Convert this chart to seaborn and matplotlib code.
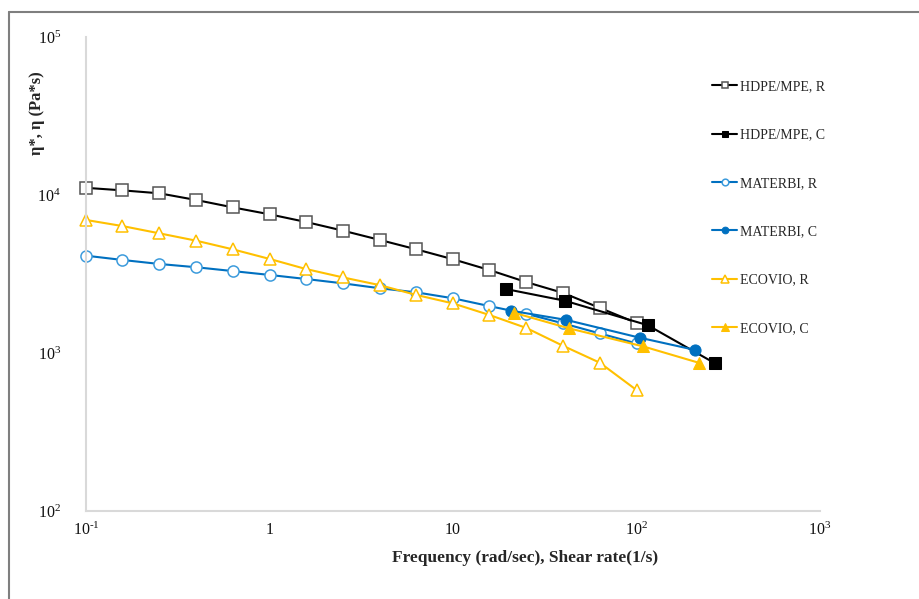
import numpy as np
import pandas as pd
import matplotlib
matplotlib.use("Agg")
import matplotlib.pyplot as plt
from matplotlib.lines import Line2D
import matplotlib.ticker as mticker
import seaborn as sns

# ---- data ----
freq_r = [0.1, 0.158, 0.251, 0.398, 0.631, 1.0, 1.58, 2.51, 3.98, 6.31,
          10.0, 15.8, 25.1, 39.8, 63.1, 100.0]
hdpe_r = [11100, 10700, 10250, 9300, 8350, 7550, 6750, 5950, 5200, 4530,
          3920, 3350, 2810, 2400, 1930, 1550]
materbi_r = [4130, 3880, 3660, 3490, 3300, 3120, 2940, 2760, 2570, 2420,
             2220, 1980, 1770, 1540, 1330, 1150]
ecovio_r = [6950, 6360, 5720, 5140, 4530, 3940, 3400, 3010, 2690, 2330,
            2060, 1740, 1440, 1110, 868, 583]

hdpe_c_x = [19.4, 40.8, 115, 268]
hdpe_c = [2540, 2140, 1500, 860]
materbi_c_x = [20.8, 41.4, 104, 209]
materbi_c = [1850, 1620, 1250, 1045]
ecovio_c_x = [21.4, 43.1, 109, 218]
ecovio_c = [1800, 1430, 1100, 868]

labels = ["HDPE/MPE, R", "HDPE/MPE, C", "MATERBI, R", "MATERBI, C",
          "ECOVIO, R", "ECOVIO, C"]
x_ticks = [0.1, 1, 10, 100, 1000]
x_ticklabels = [r"$10^{\text{-}1}$", "1", "10", r"$10^{2}$", r"$10^{3}$"]
y_ticks = [100, 1000, 10000, 100000]
y_ticklabels = [r"$10^{2}$", r"$10^{3}$", r"$10^{4}$", r"$10^{5}$"]

# ---- style ----
sns.set_theme(style="white")
plt.rcParams["font.family"] = ["Liberation Serif", "DejaVu Serif"]
plt.rcParams["mathtext.fontset"] = "custom"
plt.rcParams["mathtext.rm"] = "Liberation Serif"
plt.rcParams["mathtext.it"] = "Liberation Serif:italic"
plt.rcParams["mathtext.bf"] = "Liberation Serif:bold"

fig = plt.figure(figsize=(9.19, 5.99), dpi=100)
ax = fig.add_axes([86 / 919, 1 - 511 / 599, (820 - 86) / 919, (511 - 37) / 599])

BLACK = "#000000"
BLUE = "#0070C0"
LBLUE = "#3C9BDC"
GOLD = "#FFC000"

series = [
    (freq_r, hdpe_r, labels[0], dict(color=BLACK, marker="s", markersize=8,
                                      markerfacecolor="white", markeredgecolor="#555555",
                                      markeredgewidth=1.1)),
    (hdpe_c_x, hdpe_c, labels[1], dict(color=BLACK, marker="s", markersize=8,
                                        markerfacecolor=BLACK, markeredgecolor=BLACK)),
    (freq_r, materbi_r, labels[2], dict(color=BLUE, marker="o", markersize=8,
                                         markerfacecolor="white", markeredgecolor=LBLUE,
                                         markeredgewidth=1.1)),
    (materbi_c_x, materbi_c, labels[3], dict(color=BLUE, marker="o", markersize=8,
                                              markerfacecolor=BLUE, markeredgecolor=BLUE)),
    (freq_r, ecovio_r, labels[4], dict(color=GOLD, marker="^", markersize=9,
                                        markerfacecolor="white", markeredgecolor=GOLD,
                                        markeredgewidth=1.1)),
    (ecovio_c_x, ecovio_c, labels[5], dict(color=GOLD, marker="^", markersize=9,
                                            markerfacecolor=GOLD, markeredgecolor=GOLD)),
]

for xs, ys, lab, kw in series:
    sns.lineplot(x=xs, y=ys, ax=ax, label=lab, linewidth=1.5, legend=False,
                 clip_on=False, **kw)

ax.set_xscale("log")
ax.set_yscale("log")
ax.set_xlim(0.1, 1000)
ax.set_ylim(100, 100000)

ax.xaxis.set_major_locator(mticker.FixedLocator(x_ticks))
ax.xaxis.set_major_formatter(mticker.FixedFormatter(x_ticklabels))
ax.xaxis.set_minor_locator(mticker.NullLocator())
ax.yaxis.set_major_locator(mticker.FixedLocator(y_ticks))
ax.yaxis.set_major_formatter(mticker.FixedFormatter(y_ticklabels))
ax.yaxis.set_minor_locator(mticker.NullLocator())
ax.tick_params(axis="x", length=0, pad=8, labelsize=11.5, colors="#111111")
ax.tick_params(axis="y", length=0, pad=18, labelsize=11.5, colors="#111111")

for s in ["top", "right"]:
    ax.spines[s].set_visible(False)
for s in ["left", "bottom"]:
    ax.spines[s].set_color("#D9D9D9")
    ax.spines[s].set_linewidth(1.5)
ax.grid(False)

# axis titles
fig.text(525 / 919, 1 - 558 / 599, "Frequency (rad/sec), Shear rate(1/s)",
         ha="center", va="center", fontsize=12.5, fontweight="bold")
fig.text(37 / 919, 1 - 113 / 599, "η*, η (Pa*s)", rotation=90,
         ha="center", va="center", fontsize=12, fontweight="bold")

# legend
handles, labs = ax.get_legend_handles_labels()
leg = fig.legend(handles, labs, loc="upper left",
                 bbox_to_anchor=(712 / 919, 1 - 80 / 599),
                 bbox_transform=fig.transFigure, frameon=False,
                 fontsize=10, handlelength=1.8, handletextpad=0.25,
                 labelspacing=2.55, borderpad=0, borderaxespad=0,
                 markerscale=0.6)

# outer frame of the picture
fig.add_artist(Line2D([9 / 919, 9 / 919], [0, 1 - 12 / 599],
                      transform=fig.transFigure, color="#7F7F7F", linewidth=1.5))
fig.add_artist(Line2D([9 / 919, 1], [1 - 12 / 599, 1 - 12 / 599],
                      transform=fig.transFigure, color="#7F7F7F", linewidth=1.5))

fig.savefig("out.png", dpi=100)
